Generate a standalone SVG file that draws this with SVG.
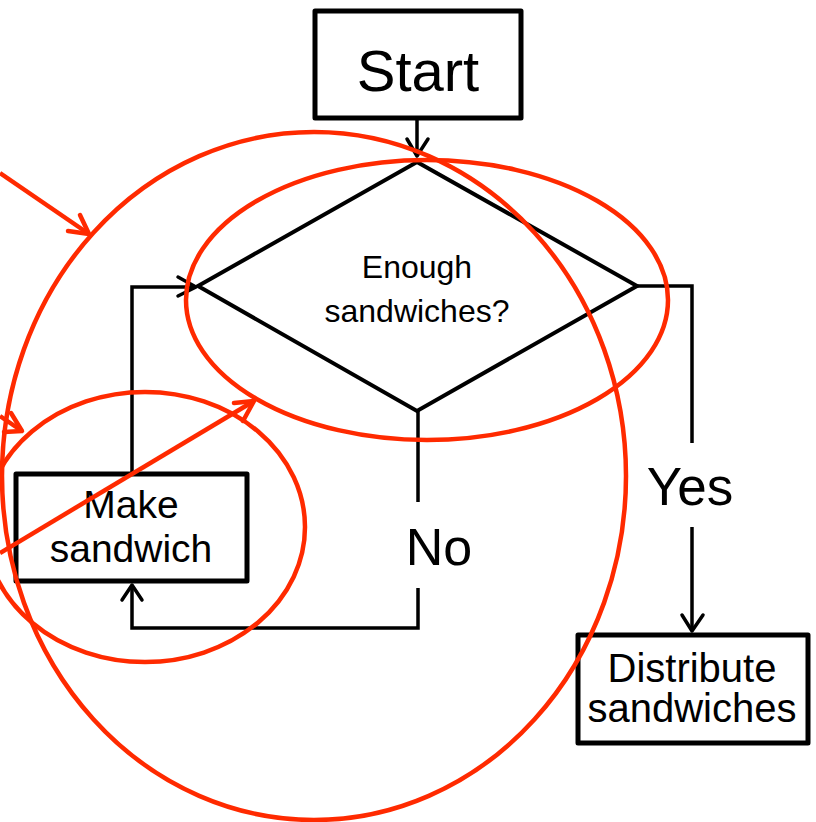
<svg xmlns="http://www.w3.org/2000/svg" width="816" height="822" viewBox="0 0 816 822">
<style>
.box{fill:#fff;stroke:#000;stroke-width:5;stroke-linejoin:round}
.ln{fill:none;stroke:#000;stroke-width:3.5;stroke-linejoin:miter}
.ah{fill:none;stroke:#000;stroke-width:3.5;stroke-linecap:round;stroke-linejoin:round}
.t{font-family:"Liberation Sans",Arial,sans-serif;fill:#000;text-anchor:middle}
.red{fill:none;stroke:#ff2a00;stroke-width:4.5}
.rah{fill:none;stroke:#ff2a00;stroke-width:4.5;stroke-linecap:round;stroke-linejoin:round}
</style>
<rect width="816" height="822" fill="#fff"/>
<g id="connectors">
<line class="ln" x1="417" y1="118" x2="417" y2="156"/>
<polyline class="ah" points="407,139 417,156 428,139"/>
<polyline class="ln" points="132,473 132,287 196,287"/>
<polyline class="ah" points="178,277 196,287 178,296"/>
<polyline class="ln" points="418,411 418,502"/>
<polyline class="ln" points="418,588 418,628 132,628 132,585"/>
<polyline class="ah" points="122,600 132,585 142,600"/>
<polyline class="ln" points="637,286 692,286 692,443"/>
<line class="ln" x1="692" y1="527" x2="692" y2="631"/>
<polyline class="ah" points="682,615 692,631 703,615"/>
</g>
<g id="start">
<rect class="box" x="315" y="11" width="206" height="107"/>
<text class="t" x="418" y="91" font-size="58">Start</text>
</g>
<g id="decision">
<polygon points="417,162 637,286 417,411 198,286" fill="none" stroke="#000" stroke-width="4" stroke-linejoin="miter"/>
<text class="t" x="417" y="278" font-size="32">Enough</text>
<text class="t" x="417" y="322" font-size="32">sandwiches?</text>
</g>
<g id="make">
<rect class="box" x="16" y="474" width="231" height="107"/>
<text class="t" x="131" y="518" font-size="39">Make</text>
<text class="t" x="131" y="562" font-size="39">sandwich</text>
</g>
<g id="distribute">
<rect class="box" x="578" y="635" width="230" height="108"/>
<text class="t" x="692" y="682" font-size="40">Distribute</text>
<text class="t" x="692" y="722" font-size="40">sandwiches</text>
</g>
<g id="no-label"><text class="t" x="439" y="565" font-size="52">No</text></g>
<g id="yes-label"><text class="t" x="690" y="505" font-size="53">Yes</text></g>
<g id="annotations">
<ellipse class="red" cx="314" cy="476" rx="312" ry="344"/>
<ellipse class="red" cx="427" cy="300" rx="241" ry="140"/>
<ellipse class="red" cx="145" cy="527" rx="160" ry="135"/>
<line class="red" x1="0" y1="173" x2="89" y2="234"/>
<polyline class="rah" points="80,215 89,234 68,231"/>
<line class="red" x1="0" y1="416" x2="22" y2="431"/>
<polyline class="rah" points="11,413 22,431 4,432"/>
<line class="red" x1="0" y1="553" x2="254" y2="401"/>
<polyline class="rah" points="234,403 254,401 243,421"/>
</g>
</svg>
